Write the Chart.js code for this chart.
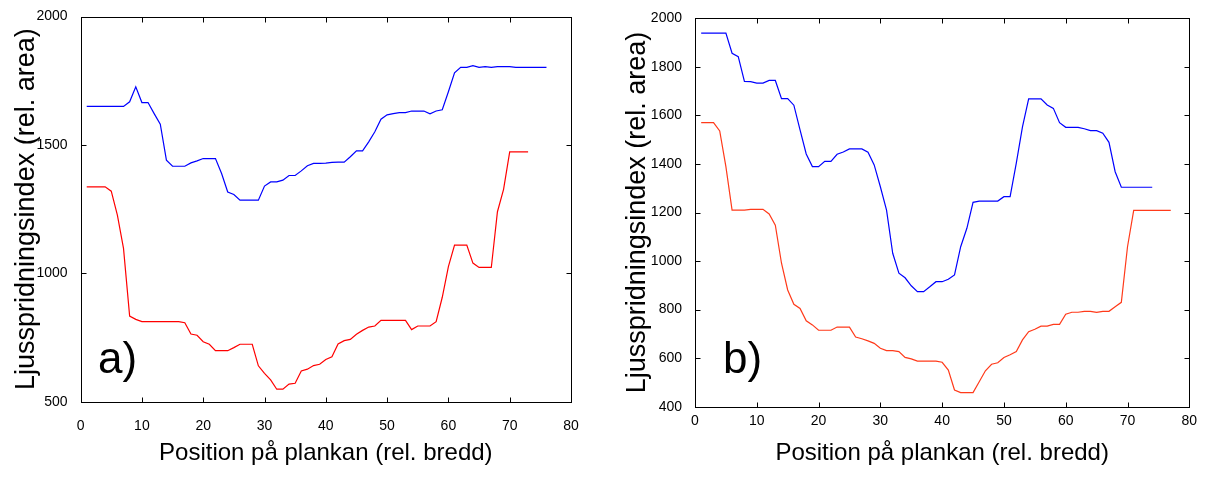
<!DOCTYPE html>
<html>
<head>
<meta charset="utf-8">
<script src="https://cdn.jsdelivr.net/npm/chart.js@4.4.1/dist/chart.umd.min.js"></script>
<style>
  html, body { margin: 0; padding: 0; background: #fff; }
  body { width: 1213px; height: 478px; position: relative; overflow: hidden; }
  .panel { position: absolute; top: 0; height: 478px; }
  #wrapA { left: 0; width: 606px; }
  #wrapB { left: 606px; width: 607px; }
</style>
</head>
<body>
<div class="panel" id="wrapA"><canvas id="chartA" width="606" height="478"></canvas></div>
<div class="panel" id="wrapB"><canvas id="chartB" width="607" height="478"></canvas></div>
<script>
// Positions along the plank (rel. width)
const positions = [1, 2, 3, 4, 5, 6, 7, 8, 9, 10, 11, 12, 13, 14, 15, 16, 17, 18, 19, 20,
  21, 22, 23, 24, 25, 26, 27, 28, 29, 30, 31, 32, 33, 34, 35, 36, 37, 38, 39, 40,
  41, 42, 43, 44, 45, 46, 47, 48, 49, 50, 51, 52, 53, 54, 55, 56, 57, 58, 59, 60,
  61, 62, 63, 64, 65, 66, 67, 68, 69, 70, 71, 72, 73, 74, 75, 76, 77];

// Panel a)
const blueA = [1650, 1650, 1650, 1650, 1650, 1650, 1650, 1668, 1726, 1665,
  1665, 1622, 1581, 1441, 1417, 1417, 1417, 1430, 1438, 1447,
  1447, 1447, 1389, 1317, 1307, 1285, 1285, 1285, 1285, 1340,
  1356, 1356, 1363, 1381, 1381, 1399, 1419, 1428, 1428, 1429,
  1432, 1433, 1433, 1454, 1477, 1477, 1512, 1551, 1600, 1617,
  1622, 1626, 1626, 1632, 1632, 1632, 1621, 1632, 1637, 1707,
  1781, 1802, 1802, 1809, 1802, 1805, 1802, 1805, 1805, 1805,
  1802, 1802, 1802, 1802, 1802, 1802];
const redA = [1337, 1337, 1337, 1337, 1320, 1227, 1097, 834, 821, 812,
  812, 812, 812, 812, 812, 812, 808, 764, 759, 734,
  724, 699, 699, 699, 711, 724, 724, 724, 640, 611,
  585, 549, 549, 569, 572, 620, 627, 641, 646, 665,
  675, 725, 738, 743, 763, 778, 791, 795, 817, 817,
  817, 817, 817, 781, 795, 795, 795, 812, 907, 1026,
  1110, 1110, 1110, 1040, 1023, 1023, 1023, 1240, 1327, 1473,
  1473, 1473, 1473];

// Panel b)
const blueB = [1939, 1939, 1939, 1939, 1939, 1856, 1842, 1740, 1739, 1733,
  1733, 1744, 1744, 1669, 1669, 1642, 1540, 1441, 1389, 1389,
  1411, 1411, 1440, 1449, 1462, 1462, 1462, 1448, 1396, 1306,
  1210, 1032, 950, 931, 898, 874, 874, 894, 915, 915,
  925, 943, 1059, 1135, 1242, 1247, 1247, 1247, 1247, 1265,
  1265, 1403, 1553, 1668, 1668, 1668, 1643, 1629, 1570, 1551,
  1551, 1551, 1545, 1537, 1537, 1527, 1489, 1368, 1304, 1304,
  1304, 1304, 1304, 1304];
const redB = [1570, 1570, 1570, 1536, 1389, 1210, 1210, 1210, 1213, 1213,
  1213, 1194, 1148, 991, 881, 822, 805, 754, 737, 715,
  715, 715, 728, 728, 728, 687, 680, 671, 661, 641,
  631, 631, 627, 603, 597, 588, 588, 588, 588, 583,
  551, 469, 458, 458, 458, 503, 548, 575, 581, 603,
  614, 627, 675, 709, 719, 732, 732, 739, 739, 781,
  789, 789, 793, 793, 789, 793, 793, 812, 830, 1059,
  1209, 1209, 1209, 1209, 1209, 1209, 1209];

const xTitle = 'Position på plankan (rel. bredd)';
const yTitle = 'Ljusspridningsindex (rel. area)';
const FONT = '"Liberation Sans", Arial, Helvetica, sans-serif';

// MATLAB-like box with inward ticks plus the panel letter
const matlabBox = {
  id: 'matlabBox',
  afterDatasetsDraw(chart, args, opts) {
    const { ctx, chartArea: a, scales: { x, y } } = chart;
    const L = Math.round(a.left) + 0.5, R = Math.round(a.right) + 0.5;
    const T = Math.round(a.top) + 0.5, B = Math.round(a.bottom) + 0.5;
    const len = 5;
    ctx.save();
    ctx.strokeStyle = '#000';
    ctx.lineWidth = 1;
    ctx.strokeRect(L, T, R - L, B - T);
    ctx.beginPath();
    x.ticks.forEach(t => {
      const px = Math.round(x.getPixelForValue(t.value)) + 0.5;
      ctx.moveTo(px, B); ctx.lineTo(px, B - len);
      ctx.moveTo(px, T); ctx.lineTo(px, T + len);
    });
    y.ticks.forEach(t => {
      const py = Math.round(y.getPixelForValue(t.value)) + 0.5;
      ctx.moveTo(L, py); ctx.lineTo(L + len, py);
      ctx.moveTo(R, py); ctx.lineTo(R - len, py);
    });
    ctx.stroke();
    ctx.font = '44px ' + FONT;
    ctx.fillStyle = '#000';
    ctx.textBaseline = 'alphabetic';
    ctx.textAlign = 'left';
    ctx.fillText(opts.text, a.left + opts.dx, a.bottom - opts.dy);
    ctx.restore();
  }
};

function series(values, color) {
  return {
    data: values.map((v, i) => ({ x: positions[i], y: v })),
    borderColor: color,
    borderWidth: 1.2,
    pointRadius: 0,
    fill: false,
    tension: 0
  };
}

function makeChart(id, cfg) {
  return new Chart(document.getElementById(id), {
    type: 'line',
    data: { datasets: [series(cfg.blue, '#0000ff'), series(cfg.red, cfg.redColor)] },
    options: {
      responsive: false,
      animation: false,
      devicePixelRatio: 1,
      layout: { padding: { top: cfg.top, right: cfg.right, left: 0, bottom: 0 } },
      plugins: {
        legend: { display: false },
        tooltip: { enabled: false },
        matlabBox: { text: cfg.letter, dx: cfg.letterDx, dy: cfg.letterDy }
      },
      scales: {
        x: {
          type: 'linear', min: 0, max: 80,
          grid: { display: false },
          border: { display: false },
          ticks: {
            stepSize: 10, padding: cfg.xTickPad, color: '#000',
            font: { family: FONT, size: 14 },
            callback: (v) => String(v)
          },
          title: { display: true, text: xTitle, color: '#000', font: { family: FONT, size: 24 }, padding: { top: 0, bottom: 10 } },
          afterFit: (s) => { s.height = cfg.xHeight; }
        },
        y: {
          min: cfg.yMin, max: 2000,
          grid: { display: false },
          border: { display: false },
          ticks: {
            stepSize: cfg.yStep, padding: 5, color: '#000',
            font: { family: FONT, size: 14 },
            callback: (v) => String(v)
          },
          title: { display: true, text: yTitle, color: '#000', font: { family: FONT, size: 27 }, padding: { top: cfg.yTitlePad, bottom: 0 } },
          afterFit: (s) => { s.width = cfg.yWidth; }
        }
      }
    },
    plugins: [matlabBox]
  });
}

makeChart('chartA', {
  blue: blueA, red: redA, redColor: '#ff0000',
  top: 16.5, right: 35, xHeight: 76.2, yWidth: 80.6,
  yMin: 500, yStep: 500, xTickPad: 8, yTitlePad: 10,
  letter: 'a)', letterDx: 17.5, letterDy: 29
});

makeChart('chartB', {
  blue: blueB, red: redB, redColor: '#ff3a1a',
  top: 18.3, right: 23.7, xHeight: 71.3, yWidth: 89,
  yMin: 400, yStep: 200, xTickPad: -2, yTitlePad: 15,
  letter: 'b)', letterDx: 28, letterDy: 34
});
</script>
</body>
</html>
